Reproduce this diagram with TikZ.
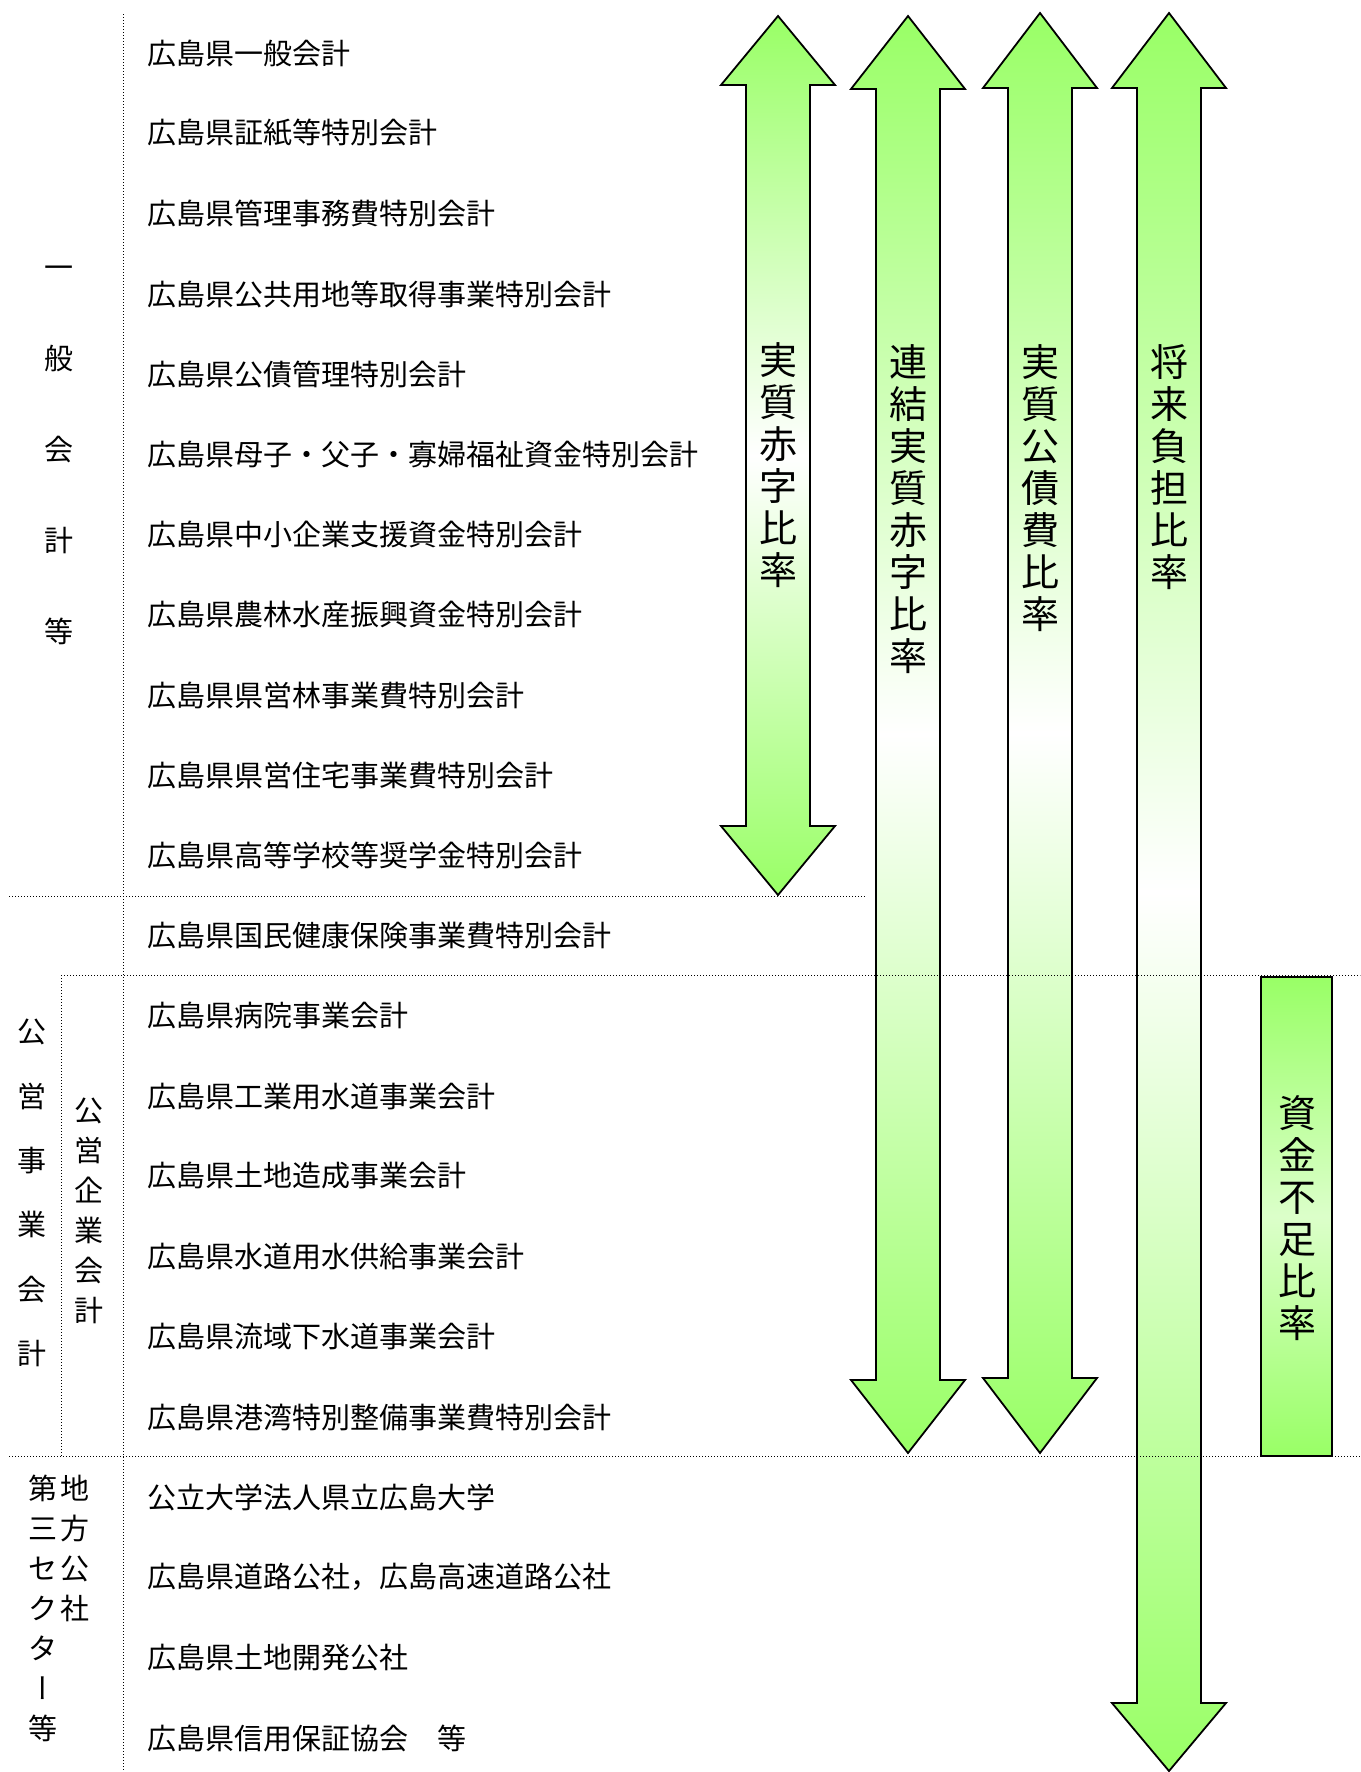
\documentclass[tikz,border=0pt]{standalone}
\usepackage{fontspec}
\setmainfont{Noto Sans CJK JP}
\newfontfamily\vertjp[RawFeature=+vert]{Noto Sans CJK JP}
\definecolor{ratiogreen}{RGB}{153,255,102}

\begin{document}
\begin{tikzpicture} [x=0.5pt, y=-0.5pt, account/.style={anchor=west, inner sep=0pt, font=\fontsize{14.5pt}{17pt}\selectfont}, grouplabel/.style={inner sep=0pt, align=center}, divider/.style={line width=0.5pt, dash pattern=on 0.6pt off 0.9pt}, ratioarrow/.style={draw, line width=0.9pt, top color=ratiogreen, bottom color=ratiogreen, middle color=white}, ratiolabel/.style={inner sep=0pt, align=center, font=\fontsize{19pt}{21pt}\selectfont}]
  \useasboundingbox (0,0) rectangle (1360,1772);
  % Ratio arrows
  \draw [ratioarrow] (778,16) -- (835,85) -- (810,85) -- (810,826) -- (835,826) -- (778,895) -- (721,826) -- (746,826) -- (746,85) -- (721,85) -- cycle;
  \draw [ratioarrow] (908,16) -- (965,89) -- (940,89) -- (940,1380) -- (965,1380) -- (908,1453) -- (851,1380) -- (876,1380) -- (876,89) -- (851,89) -- cycle;
  \draw [ratioarrow] (1040,13) -- (1097,88) -- (1072,88) -- (1072,1378) -- (1097,1378) -- (1040,1453) -- (983,1378) -- (1008,1378) -- (1008,88) -- (983,88) -- cycle;
  \draw [ratioarrow] (1169,13) -- (1226,88) -- (1201,88) -- (1201,1703) -- (1226,1703) -- (1169,1771) -- (1112,1703) -- (1137,1703) -- (1137,88) -- (1112,88) -- cycle;
  \draw [ratioarrow, middle color=ratiogreen!35] (1261,977) rectangle (1332,1456);
  \node [ratiolabel] (deficit) at (778,465) {実\\質\\赤\\字\\比\\率};
  \node [ratiolabel] (consolidated) at (908,509) {連\\結\\実\\質\\赤\\字\\比\\率};
  \node [ratiolabel] (debtservice) at (1040,488) {実\\質\\公\\債\\費\\比\\率};
  \node [ratiolabel] (futureburden) at (1169,467) {将\\来\\負\\担\\比\\率};
  \node [ratiolabel] (shortfall) at (1297,1218) {資\\金\\不\\足\\比\\率};
  % Dividers
  \draw [divider] (123,14) -- (123,1772);
  \draw [divider] (9,896) -- (866,896);
  \draw [divider] (61,975) -- (1360,975);
  \draw [divider] (61,975) -- (61,1456);
  \draw [divider] (9,1456) -- (1360,1456);
  % Group labels
  \node [grouplabel, font=\fontsize{14.5pt}{45.5pt}\selectfont] (general) at (59,455) {一\\般\\会\\計\\等};
  \node [grouplabel, font=\fontsize{14.5pt}{32.2pt}\selectfont] (publicbiz) at (32,1193) {公\\営\\事\\業\\会\\計};
  \node [grouplabel, font=\fontsize{14.5pt}{20pt}\selectfont] (enterprise) at (89,1211) {公\\営\\企\\業\\会\\計};
  \node [grouplabel, font=\fontsize{14.5pt}{20pt}\selectfont] (thirdsector) at (43,1608) {第\\三\\セ\\ク\\タ\\{\vertjp ー}\\等};
  \node [grouplabel, font=\fontsize{14.5pt}{20pt}\selectfont] (localcorp) at (75,1548) {地\\方\\公\\社};
  % Accounts
  \node [account] (acc1) at (147,53) {広島県一般会計};
  \node [account] (acc2) at (147,133) {広島県証紙等特別会計};
  \node [account] (acc3) at (147,213) {広島県管理事務費特別会計};
  \node [account] (acc4) at (147,294) {広島県公共用地等取得事業特別会計};
  \node [account] (acc5) at (147,374) {広島県公債管理特別会計};
  \node [account] (acc6) at (147,454) {広島県母子・父子・寡婦福祉資金特別会計};
  \node [account] (acc7) at (147,534) {広島県中小企業支援資金特別会計};
  \node [account] (acc8) at (147,614) {広島県農林水産振興資金特別会計};
  \node [account] (acc9) at (147,695) {広島県県営林事業費特別会計};
  \node [account] (acc10) at (147,775) {広島県県営住宅事業費特別会計};
  \node [account] (acc11) at (147,855) {広島県高等学校等奨学金特別会計};
  \node [account] (acc12) at (147,935) {広島県国民健康保険事業費特別会計};
  \node [account] (acc13) at (147,1015) {広島県病院事業会計};
  \node [account] (acc14) at (147,1096) {広島県工業用水道事業会計};
  \node [account] (acc15) at (147,1176) {広島県土地造成事業会計};
  \node [account] (acc16) at (147,1256) {広島県水道用水供給事業会計};
  \node [account] (acc17) at (147,1336) {広島県流域下水道事業会計};
  \node [account] (acc18) at (147,1417) {広島県港湾特別整備事業費特別会計};
  \node [account] (acc19) at (147,1497) {公立大学法人県立広島大学};
  \node [account] (acc20) at (147,1577) {広島県道路公社，広島高速道路公社};
  \node [account] (acc21) at (147,1657) {広島県土地開発公社};
  \node [account] (acc22) at (147,1738) {広島県信用保証協会　等};
\end{tikzpicture}
\end{document}
